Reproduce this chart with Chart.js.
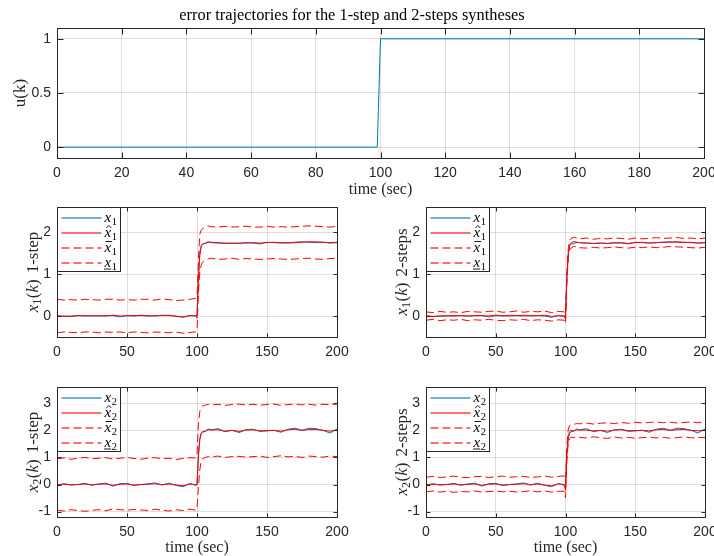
<!DOCTYPE html>
<html><head><meta charset="utf-8">
<script src="https://cdn.jsdelivr.net/npm/chart.js@4.4.0/dist/chart.umd.min.js"></script>
<style>
html,body{margin:0;padding:0;background:#fff;width:714px;height:556px;overflow:hidden;}
canvas{position:absolute;}
</style></head><body>
<canvas id="cU" style="left:0px;top:0px" width="714" height="200"></canvas>
<canvas id="c11" style="left:0px;top:200px" width="357" height="165"></canvas>
<canvas id="c12" style="left:357px;top:200px" width="357" height="165"></canvas>
<canvas id="c21" style="left:0px;top:380px" width="357" height="176"></canvas>
<canvas id="c22" style="left:357px;top:380px" width="357" height="176"></canvas>
<script>
// ---------- data ----------
const titleText = 'error trajectories for the 1-step and 2-steps syntheses';
const uTime = [0, 99, 100, 200];
const uValues = [0, 0, 1, 1];
const uXTicks = [0,20,40,60,80,100,120,140,160,180,200];
const uYTicks = [0, 0.5, 1];
const xTicks = [0, 50, 100, 150, 200];
const x1YTicks = [0, 1, 2];
const x2YTicks = [-1, 0, 1, 2, 3];

const t = [0,5,10,15,20,25,30,35,40,45,50,55,60,65,70,75,80,85,90,95,
  99,100,101,102,103,104,106,108,110,
  115,120,125,130,135,140,145,150,155,160,165,170,175,180,185,190,195,200];

const x1True = [0.00,-0.01,0.00,0.01,0.00,0.01,0.00,0.01,0.01,-0.02,0.01,0.00,0.02,0.01,0.00,0.02,0.01,0.00,-0.03,0.01,
  0.00,0.02,0.95,1.50,1.68,1.72,1.73,1.76,1.75,
  1.74,1.73,1.74,1.73,1.75,1.74,1.72,1.76,1.75,1.74,1.75,1.76,1.77,1.76,1.75,1.76,1.74,1.75];
const x1Hat1 = [0.00,0.00,-0.01,0.01,0.01,0.00,0.01,0.00,0.02,0.00,0.01,0.01,0.01,0.00,0.01,0.01,0.02,-0.01,-0.02,0.01,
  0.01,-0.05,0.85,1.45,1.65,1.71,1.74,1.77,1.76,
  1.75,1.74,1.73,1.74,1.74,1.75,1.74,1.75,1.76,1.75,1.74,1.75,1.76,1.77,1.77,1.76,1.75,1.76];
const x1Upper1 = [0.40,0.38,0.39,0.38,0.40,0.39,0.38,0.40,0.40,0.38,0.39,0.38,0.40,0.40,0.38,0.41,0.39,0.37,0.38,0.40,
  0.42,0.45,1.35,1.95,2.05,2.08,2.12,2.15,2.13,
  2.12,2.14,2.12,2.13,2.14,2.12,2.12,2.14,2.12,2.13,2.12,2.13,2.14,2.15,2.14,2.13,2.12,2.14];
const x1Lower1 = [-0.40,-0.38,-0.39,-0.40,-0.38,-0.38,-0.40,-0.38,-0.39,-0.38,-0.40,-0.38,-0.39,-0.40,-0.38,-0.39,-0.40,-0.38,-0.41,-0.39,
  -0.38,-0.35,0.55,1.05,1.22,1.28,1.33,1.36,1.38,
  1.35,1.36,1.38,1.35,1.37,1.36,1.35,1.36,1.37,1.36,1.35,1.36,1.37,1.38,1.36,1.35,1.37,1.38];

const x1Hat2 = [0.00,-0.01,0.00,0.00,0.01,0.01,0.00,0.01,0.01,0.00,0.02,0.01,0.00,0.01,0.02,0.00,0.01,0.02,-0.01,0.01,
  0.00,-0.08,0.90,1.50,1.68,1.74,1.78,1.76,1.75,
  1.74,1.73,1.74,1.73,1.74,1.75,1.73,1.75,1.76,1.74,1.75,1.76,1.76,1.77,1.76,1.75,1.74,1.75];
const x1Upper2 = [0.10,0.08,0.11,0.09,0.10,0.08,0.11,0.10,0.09,0.11,0.12,0.09,0.10,0.12,0.09,0.11,0.10,0.12,0.08,0.11,
  0.10,0.05,1.00,1.62,1.80,1.85,1.88,1.86,1.84,
  1.86,1.83,1.85,1.84,1.86,1.85,1.83,1.86,1.84,1.85,1.87,1.85,1.86,1.87,1.85,1.86,1.84,1.86];
const x1Lower2 = [-0.10,-0.08,-0.11,-0.09,-0.10,-0.08,-0.11,-0.09,-0.10,-0.08,-0.10,-0.11,-0.09,-0.10,-0.08,-0.11,-0.09,-0.10,-0.12,-0.09,
  -0.10,-0.18,0.80,1.40,1.58,1.62,1.66,1.65,1.63,
  1.62,1.64,1.62,1.63,1.65,1.63,1.62,1.64,1.63,1.65,1.63,1.64,1.66,1.65,1.64,1.63,1.62,1.64];

const x2True = [-0.05,0.03,-0.02,0.00,0.04,-0.03,0.02,0.05,-0.06,0.03,0.04,-0.04,0.00,0.02,0.06,-0.02,0.05,-0.03,-0.08,0.04,
  -0.03,0.00,1.10,1.70,1.90,1.95,1.97,2.05,2.02,
  2.06,1.95,2.00,1.92,2.02,2.04,1.96,1.98,2.00,1.93,2.04,2.08,2.00,2.08,2.06,2.00,1.90,2.05];
const x2Hat1 = [0.00,0.01,-0.01,0.00,0.02,-0.01,0.01,0.02,-0.03,0.01,0.02,-0.02,0.00,0.01,0.03,-0.01,0.02,-0.02,-0.05,0.02,
  -0.01,-0.02,1.00,1.65,1.88,1.93,1.96,2.02,2.01,
  2.02,1.97,2.00,1.96,2.01,2.02,1.98,1.99,2.00,1.97,2.02,2.04,2.00,2.03,2.03,2.00,1.97,2.01];
const x2Upper1 = [0.95,0.98,0.93,0.97,1.00,0.95,0.97,0.99,0.94,0.97,1.00,0.96,0.93,0.98,0.99,0.95,0.97,0.92,0.96,0.99,
  0.98,1.10,2.20,2.70,2.85,2.90,2.93,2.96,2.94,
  2.96,2.92,2.95,2.97,2.94,2.96,2.93,2.95,2.97,2.92,2.95,2.97,2.94,2.96,2.93,2.96,2.95,2.97];
const x2Lower1 = [-0.95,-0.98,-0.93,-0.96,-0.99,-0.95,-0.93,-0.97,-0.90,-0.93,-0.95,-0.92,-0.94,-0.96,-0.91,-0.95,-0.98,-0.93,-0.96,-0.91,
  -0.95,-0.90,-0.10,0.55,0.85,0.95,1.00,1.03,1.02,
  1.05,1.00,1.03,1.04,1.01,1.03,1.05,1.00,1.03,1.06,1.02,1.04,1.00,1.05,1.03,1.01,1.05,1.03];

const x2Hat2 = [0.00,0.01,-0.01,0.00,0.02,-0.01,0.01,0.02,-0.03,0.01,0.02,-0.02,0.00,0.01,0.03,-0.01,0.02,-0.02,-0.05,0.02,
  0.00,-0.22,1.20,1.80,1.95,2.00,1.98,2.02,2.01,
  2.01,1.98,2.00,1.97,2.01,2.02,1.99,1.99,2.00,1.98,2.02,2.03,2.00,2.02,2.03,2.00,1.98,2.01];
const x2Upper2 = [0.27,0.30,0.26,0.28,0.31,0.27,0.25,0.29,0.30,0.26,0.29,0.31,0.27,0.29,0.30,0.26,0.28,0.31,0.27,0.30,
  0.32,0.15,1.45,2.05,2.18,2.20,2.22,2.25,2.24,
  2.27,2.23,2.26,2.28,2.25,2.29,2.26,2.30,2.27,2.29,2.31,2.28,2.30,2.27,2.29,2.31,2.28,2.32];
const x2Lower2 = [-0.27,-0.24,-0.28,-0.25,-0.29,-0.26,-0.27,-0.24,-0.28,-0.26,-0.24,-0.27,-0.25,-0.28,-0.26,-0.23,-0.27,-0.24,-0.28,-0.25,
  -0.25,-0.50,0.90,1.55,1.70,1.75,1.73,1.76,1.74,
  1.72,1.76,1.73,1.70,1.75,1.72,1.74,1.71,1.73,1.75,1.72,1.74,1.71,1.73,1.76,1.72,1.74,1.73];

// ---------- styling ----------
const SANS = "'Liberation Sans', Arial, Helvetica, sans-serif";
const SERIF = "'Liberation Serif', 'Times New Roman', serif";
const AXIS = '#262626';
const GRID = 'rgba(38,38,38,0.15)';
const BLUE = '#0072BD';
const RED = '#FF0000';
const DASH = [8, 4];

function xy(xs, ys) { return xs.map((x, i) => ({x: x, y: ys[i]})); }

function drawMathX(ctx, x, base, sub, decor) {
  ctx.font = 'italic 15px ' + SERIF;
  ctx.fillText('x', x, base);
  const wx = ctx.measureText('x').width;
  ctx.font = '10.5px ' + SERIF;
  ctx.fillText(sub, x + wx + 0.5, base + 3);
  ctx.lineWidth = 0.9;
  ctx.beginPath();
  if (decor === 'hat') {
    const cx = x + wx / 2 + 1;
    ctx.moveTo(cx - 2.5, base - 8.5); ctx.lineTo(cx, base - 11); ctx.lineTo(cx + 2.5, base - 8.5);
  } else if (decor === 'bar') {
    ctx.moveTo(x + 1, base - 10); ctx.lineTo(x + wx + 1, base - 10);
  } else if (decor === 'under') {
    ctx.moveTo(x - 0.5, base + 2.5); ctx.lineTo(x + wx, base + 2.5);
  }
  ctx.stroke();
}

const framePlugin = {
  id: 'frame',
  afterDatasetsDraw(chart, args, opts) {
    const {ctx, chartArea: a, scales} = chart;
    const L = Math.round(a.left) + 0.5, T = Math.round(a.top) + 0.5;
    const R = Math.round(a.right) + 0.5, B = Math.round(a.bottom) + 0.5;
    ctx.save();
    ctx.strokeStyle = AXIS; ctx.lineWidth = 1; ctx.setLineDash([]);
    const tl = opts.tickLen || 4;
    ctx.beginPath();
    scales.x.ticks.forEach(tk => {
      const px = Math.round(scales.x.getPixelForValue(tk.value)) + 0.5;
      ctx.moveTo(px, B); ctx.lineTo(px, B - tl);
      ctx.moveTo(px, T); ctx.lineTo(px, T + tl);
    });
    scales.y.ticks.forEach(tk => {
      const py = Math.round(scales.y.getPixelForValue(tk.value)) + 0.5;
      ctx.moveTo(L, py); ctx.lineTo(L + tl, py);
      ctx.moveTo(R, py); ctx.lineTo(R - tl, py);
    });
    ctx.stroke();
    ctx.strokeRect(L, T, R - L, B - T);

    // inset legend
    if (opts.legend) {
      const w = 63, h = 64;
      ctx.fillStyle = '#fff';
      ctx.fillRect(L, T, w, h);
      ctx.strokeStyle = AXIS;
      ctx.strokeRect(L, T, w, h);
      chart.data.datasets.forEach((ds, i) => {
        const y = Math.round(T) + 10 + i * 15;
        ctx.save();
        ctx.strokeStyle = ds.borderColor; ctx.lineWidth = 1.3;
        ctx.globalAlpha = 0.75;
        ctx.setLineDash(ds.borderDash || []);
        ctx.beginPath(); ctx.moveTo(L + 4, y); ctx.lineTo(L + 44, y); ctx.stroke();
        ctx.restore();
        ctx.fillStyle = '#000'; ctx.strokeStyle = '#000';
        ctx.textAlign = 'left'; ctx.textBaseline = 'alphabetic';
        drawMathX(ctx, L + 47, y + 3.5, opts.legend.sub, ds.decor);
      });
    }

    // rich y label
    if (opts.ylabel) {
      const segs = opts.ylabel;
      ctx.translate(a.left - opts.ylabelOffset, (a.top + a.bottom) / 2);
      ctx.rotate(-Math.PI / 2);
      let total = 0;
      segs.forEach(s => { ctx.font = s.f; s.w = ctx.measureText(s.t).width; total += s.w + (s.gap || 0); });
      let x = -total / 2;
      ctx.fillStyle = AXIS; ctx.textAlign = 'left'; ctx.textBaseline = 'alphabetic';
      segs.forEach(s => { ctx.font = s.f; ctx.fillText(s.t, x, 5 + (s.dy || 0)); x += s.w + (s.gap || 0); });
    }
    ctx.restore();
  }
};

function yLabelSegs(sub, suffix) {
  return [
    {t: 'x', f: 'italic 17px ' + SERIF},
    {t: sub, f: '12px ' + SERIF, dy: 3, gap: 0.5},
    {t: '(', f: '17px ' + SERIF},
    {t: 'k', f: 'italic 17px ' + SERIF},
    {t: ')', f: '17px ' + SERIF, gap: 6},
    {t: suffix, f: '17px ' + SERIF}
  ];
}

const tickFmt = v => String(v);

function makeScales(cfg) {
  return {
    x: {
      type: 'linear', min: 0, max: 200,
      grid: {color: GRID, lineWidth: 1, drawTicks: false, tickLength: 0},
      border: {display: false},
      ticks: {font: {family: SANS, size: 14}, color: AXIS, padding: 7, maxRotation: 0, autoSkip: false, callback: tickFmt},
      afterBuildTicks: s => { s.ticks = cfg.xt.map(v => ({value: v})); },
      afterFit: s => { s.height = cfg.xh; s.paddingLeft = 0; s.paddingRight = 0; },
      title: cfg.xtitle ? {display: true, text: 'time (sec)', color: AXIS,
        font: {family: SERIF, size: 16, lineHeight: 1}, padding: {top: 0, bottom: cfg.xtitlePad}} : {display: false}
    },
    y: {
      type: 'linear', min: cfg.ymin, max: cfg.ymax,
      grid: {color: GRID, lineWidth: 1, drawTicks: false, tickLength: 0},
      border: {display: false},
      ticks: {font: {family: SANS, size: 14}, color: AXIS, padding: 6, callback: tickFmt},
      afterBuildTicks: s => { s.ticks = cfg.yt.map(v => ({value: v})); },
      afterFit: s => { s.width = cfg.yw; s.paddingTop = 0; s.paddingBottom = 0; },
      title: cfg.ytitle ? {display: true, text: cfg.ytitle, color: AXIS,
        font: {family: SERIF, size: 17, lineHeight: 1}, padding: {top: 12, bottom: 0}} : {display: false}
    }
  };
}

function stateDatasets(sub, tru, hat, up, lo) {
  return [
    {label: 'x' + sub, decor: 'none', data: xy(t, tru), borderColor: BLUE, borderWidth: 1, order: 4},
    {label: 'x̂' + sub, decor: 'hat', data: xy(t, hat), borderColor: RED, borderWidth: 1, order: 3},
    {label: 'x̄' + sub, decor: 'bar', data: xy(t, up), borderColor: RED, borderWidth: 1, borderDash: DASH, order: 2},
    {label: 'x̲' + sub, decor: 'under', data: xy(t, lo), borderColor: RED, borderWidth: 1, borderDash: DASH, order: 1}
  ];
}

const common = {
  responsive: false, animation: false, events: [],
  elements: {point: {radius: 0}, line: {tension: 0, fill: false}},
};

// top: u(k)
new Chart(document.getElementById('cU'), {
  type: 'line',
  data: {datasets: [{label: 'u(k)', data: xy(uTime, uValues), borderColor: BLUE, borderWidth: 1}]},
  options: Object.assign({}, common, {
    layout: {padding: {left: 0, right: 10, top: 0, bottom: 0}},
    scales: makeScales({xt: uXTicks, yt: uYTicks, ymin: -0.1, ymax: 1.1, xh: 42, yw: 57, xtitle: true, xtitlePad: 2, ytitle: 'u(k)'}),
    plugins: {
      legend: {display: false}, tooltip: {enabled: false},
      title: {display: true, text: titleText, color: '#000', font: {family: SERIF, size: 16.4, weight: 'normal', lineHeight: 1.2}, padding: {top: 5.8, bottom: 2.5}},
      frame: {tickLen: 6}
    }
  }),
  plugins: [framePlugin]
});

function panel(id, sub, suffix, tru, hat, up, lo, ymin, ymax, yt, yw, padR, xh, xtitle) {
  new Chart(document.getElementById(id), {
    type: 'line',
    data: {datasets: stateDatasets(sub, tru, hat, up, lo)},
    options: Object.assign({}, common, {
      layout: {padding: {left: 0, right: padR, top: 7, bottom: 0}},
      scales: makeScales({xt: xTicks, yt: yt, ymin: ymin, ymax: ymax, xh: xh, yw: yw, xtitle: xtitle, xtitlePad: 0}),
      plugins: {
        legend: {display: false}, tooltip: {enabled: false}, title: {display: false},
        frame: {tickLen: 4, legend: {sub: sub}, ylabel: yLabelSegs(sub, suffix), ylabelOffset: 24.5}
      }
    }),
    plugins: [framePlugin]
  });
}

panel('c11', '1', '1-step', x1True, x1Hat1, x1Upper1, x1Lower1, -0.5, 2.6, x1YTicks, 57, 20, 28, false);
panel('c12', '1', '2-steps', x1True, x1Hat2, x1Upper2, x1Lower2, -0.5, 2.6, x1YTicks, 69, 9, 28, false);
panel('c21', '2', '1-step', x2True, x2Hat1, x2Upper1, x2Lower1, -1.2, 3.6, x2YTicks, 57, 20, 39, true);
panel('c22', '2', '2-steps', x2True, x2Hat2, x2Upper2, x2Lower2, -1.2, 3.6, x2YTicks, 69, 9, 39, true);
</script>
</body></html>
